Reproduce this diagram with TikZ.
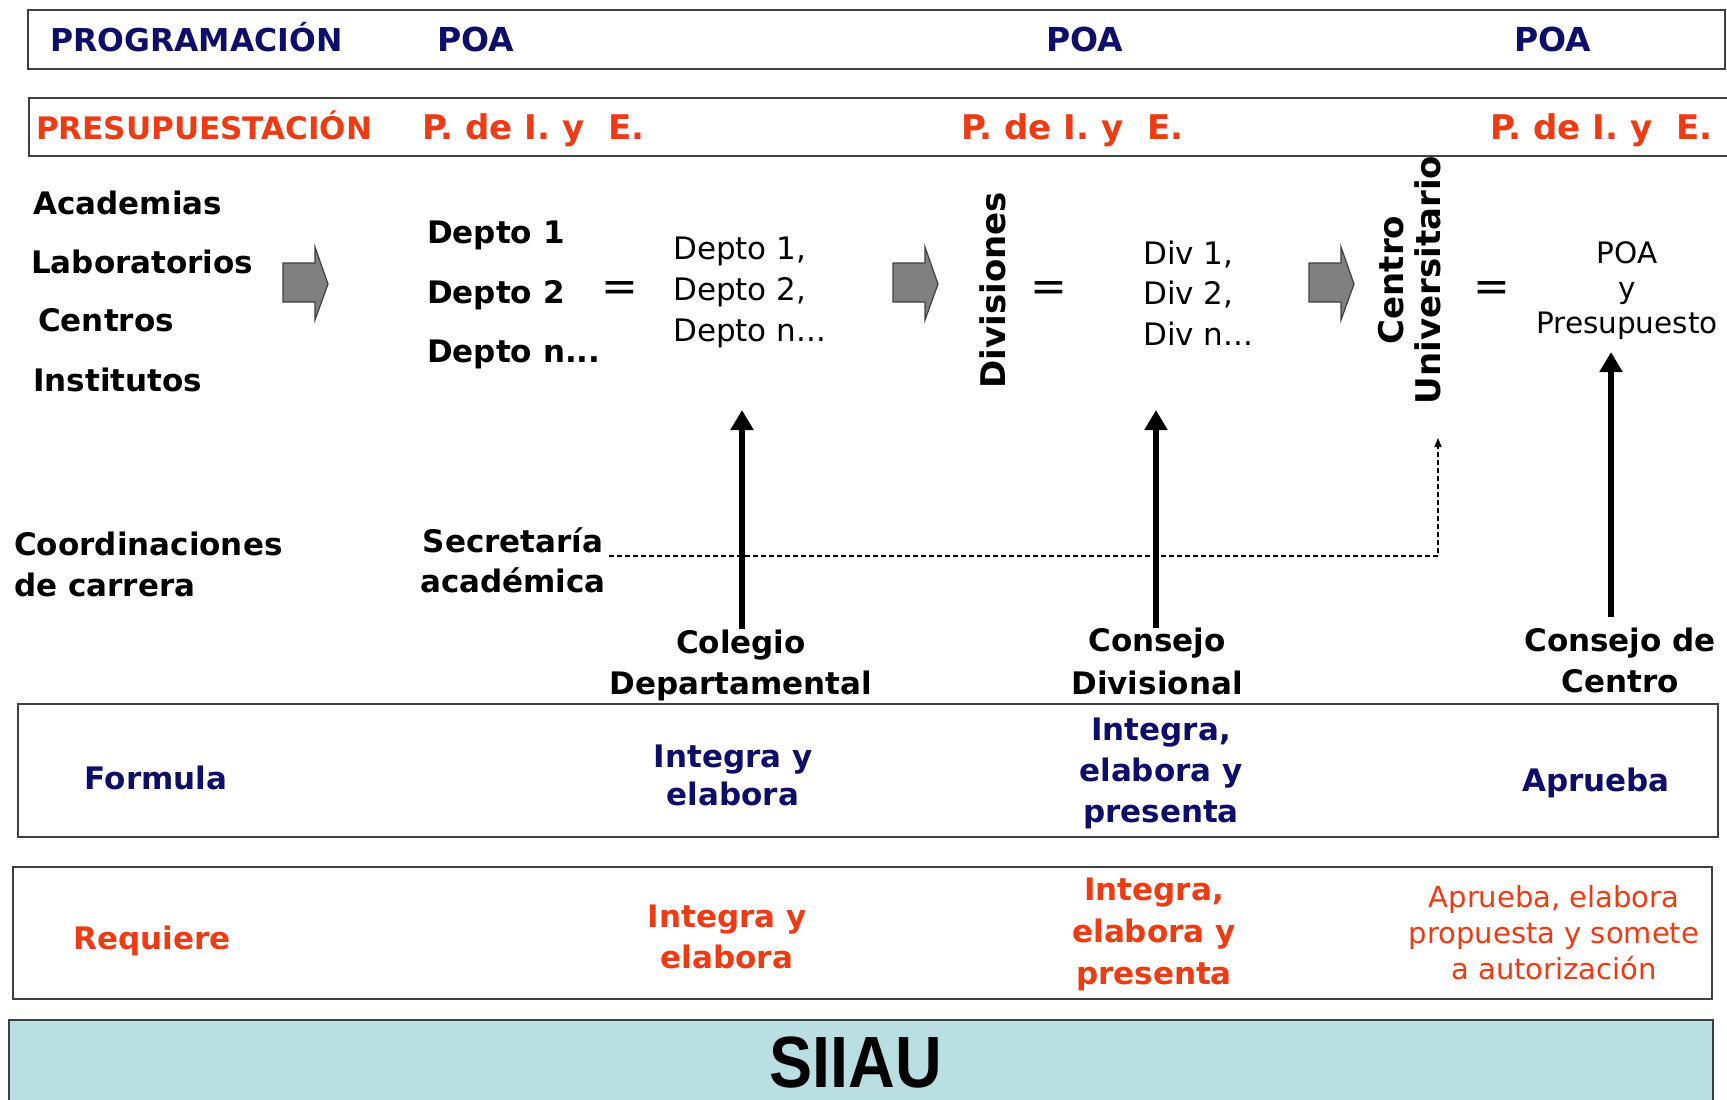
\documentclass[tikz,border=0pt]{standalone}
\usepackage{fontspec}
\setmainfont{DejaVu Sans}
\newfontfamily\arialf{Liberation Sans}
\usetikzlibrary{arrows.meta}
\definecolor{navy}{HTML}{0D0D6B}
\definecolor{redor}{HTML}{F03A12}
\definecolor{siiaufill}{HTML}{B9DFE2}
\tikzset{
  boxline/.style={draw=black!75, line width=2pt},
  tb/.style={inner sep=0pt, font=\fontsize{31}{41}\selectfont\bfseries},
  tr/.style={inner sep=0pt, font=\fontsize{31}{41}\selectfont},
  bigarrow/.style={line width=6pt, -{Triangle[length=20pt,width=22pt]}},
  dasharrow/.style={line width=1.2pt, dash pattern=on 5pt off 3pt, -{Triangle[length=9pt,width=7pt]}},
  blockarrow/.style={fill=black!50, draw=black!75, line width=1.2pt},
  eqsign/.style={inner sep=0pt, font=\fontsize{44}{44}\selectfont},
}
\begin{document}
\begin{tikzpicture}[x=1pt,y=-1pt]
\useasboundingbox (0,0) rectangle (1727,1100);
\fill[white] (0,0) rectangle (1727,1100);

% header boxes
\draw[boxline] (28,10) rectangle (1725,69);
\draw[boxline] (1740,98) -- (29,98) -- (29,156) -- (1740,156);

\node[tb, anchor=base west, text=navy, font=\fontsize{31.5}{38}\selectfont\bfseries] (prog) at (50,51) {PROGRAMACIÓN};
\node[tb, anchor=base, text=navy, font=\fontsize{33}{38}\selectfont\bfseries] (poa1) at (476,51) {POA};
\node[tb, anchor=base, text=navy, font=\fontsize{33}{38}\selectfont\bfseries] (poa2) at (1085,51) {POA};
\node[tb, anchor=base, text=navy, font=\fontsize{33}{38}\selectfont\bfseries] (poa3) at (1553,51) {POA};

\node[tb, anchor=base west, text=redor, font=\fontsize{31}{38}\selectfont\bfseries] (pres) at (36,139) {PRESUPUESTACIÓN};
\node[tb, anchor=base west, text=redor, font=\fontsize{34}{38}\selectfont\bfseries] (pie1) at (422,139) {P. de I. y~~E.};
\node[tb, anchor=base west, text=redor, font=\fontsize{34}{38}\selectfont\bfseries] (pie2) at (961,139) {P. de I. y~~E.};
\node[tb, anchor=base west, text=redor, font=\fontsize{34}{38}\selectfont\bfseries] (pie3) at (1490,139) {P. de I. y~~E.};

% left column
\node[tb, anchor=base west] (acad) at (33,214) {Academias};
\node[tb, anchor=base west] (lab) at (31,273) {Laboratorios};
\node[tb, anchor=base west] (cent) at (38,331) {Centros};
\node[tb, anchor=base west] (inst) at (33,391) {Institutos};

% block arrows
\foreach \dx in {0,610,1026}{
  \path[blockarrow, xshift=\dx pt] (283,263) -- (315,263) -- (315,247) -- (328,284) -- (315,320) -- (315,302) -- (283,302) -- cycle;
}

% departments
\node[tb, anchor=base west] (d1) at (427,243) {Depto 1};
\node[tb, anchor=base west] (d2) at (427,303) {Depto 2};
\node[tb, anchor=base west] (dn) at (427,362) {Depto n...};
\node[eqsign] (eq1) at (620,292) {=};
\node[tr, anchor=base west] (dd1) at (673,259) {Depto 1,};
\node[tr, anchor=base west] (dd2) at (673,300) {Depto 2,};
\node[tr, anchor=base west] (ddn) at (673,341) {Depto n...};

% divisions
\node[tb, rotate=90, font=\fontsize{34}{38}\selectfont\bfseries] (divs) at (993,290) {Divisiones};
\node[eqsign] (eq2) at (1049,292) {=};
\node[tr, anchor=base west] (v1) at (1143,264) {Div 1,};
\node[tr, anchor=base west] (v2) at (1143,304) {Div 2,};
\node[tr, anchor=base west] (vn) at (1143,345) {Div n...};

% centro universitario
\node[tb, rotate=90, align=center, font=\fontsize{34}{37}\selectfont\bfseries] (cu) at (1410,280) {Centro\\Universitario};
\node[eqsign] (eq3) at (1492,292) {=};
\node[tr, align=center, font=\fontsize{29.5}{35}\selectfont] (poapres) at (1627,291) {POA\\y\\Presupuesto};

% lower labels
\node[tb, align=left, anchor=west, font=\fontsize{31}{41}\selectfont\bfseries] (coord) at (14,564) {Coordinaciones\\de carrera};
\node[tb, align=center, font=\fontsize{31}{40}\selectfont\bfseries] (secr) at (513,560) {Secretaría\\académica};
\node[tb, align=center, font=\fontsize{31}{41}\selectfont\bfseries] (coleg) at (741,665) {Colegio\\Departamental};
\node[tb, align=center, font=\fontsize{31}{43}\selectfont\bfseries] (cdiv) at (1157,661.5) {Consejo\\Divisional};
\node[tb, align=center, font=\fontsize{31}{41}\selectfont\bfseries] (ccen) at (1620,660.5) {Consejo de\\Centro};

% arrows
\coordinate (tipA) at (742,410);
\coordinate (tipB) at (1156,410);
\coordinate (startC) at (1611,617);
\coordinate (tipC) at (1611,352);
\coordinate (dashS) at (609,556);
\coordinate (dashK) at (1438,556);
\coordinate (dashT) at (1438,438);
\draw[bigarrow] (coleg.north -| tipA) -- (tipA);
\draw[bigarrow] (cdiv.north -| tipB) -- (tipB);
\draw[bigarrow] (startC) -- (tipC);
\draw[dasharrow] (dashS) -- (dashK) -- (dashT);

% Formula box
\draw[boxline] (18,704) rectangle (1718,837);
\node[tb, anchor=base, text=navy] (form) at (156,789) {Formula};
\node[tb, align=center, text=navy, font=\fontsize{31}{38}\selectfont\bfseries] (f1) at (733,775) {Integra y\\elabora};
\node[tb, align=center, text=navy, font=\fontsize{31}{41}\selectfont\bfseries] (f2) at (1161,773.5) {Integra,\\elabora y\\presenta};
\node[tb, anchor=base, text=navy] (f3) at (1596,791) {Aprueba};

% Requiere box
\draw[boxline] (13,867) rectangle (1712,999);
\node[tb, anchor=base, text=redor] (req) at (152,949) {Requiere};
\node[tb, align=center, text=redor, font=\fontsize{31}{41}\selectfont\bfseries] (r1) at (727,936.5) {Integra y\\elabora};
\node[tb, align=center, text=redor, font=\fontsize{31}{42}\selectfont\bfseries] (r2) at (1154,934.5) {Integra,\\elabora y\\presenta};
\node[tr, align=center, text=redor, font=\fontsize{29}{36}\selectfont] (r3) at (1554,932.5) {Aprueba, elabora\\propuesta y somete\\a autorización};

% SIIAU box
\draw[boxline, fill=siiaufill] (9,1020) rectangle (1713,1112);
\node[inner sep=0pt, font=\arialf\bfseries\fontsize{72.6}{80}\selectfont, xscale=0.89, anchor=base] (siiau) at (856,1087) {SIIAU};
\end{tikzpicture}
\end{document}
